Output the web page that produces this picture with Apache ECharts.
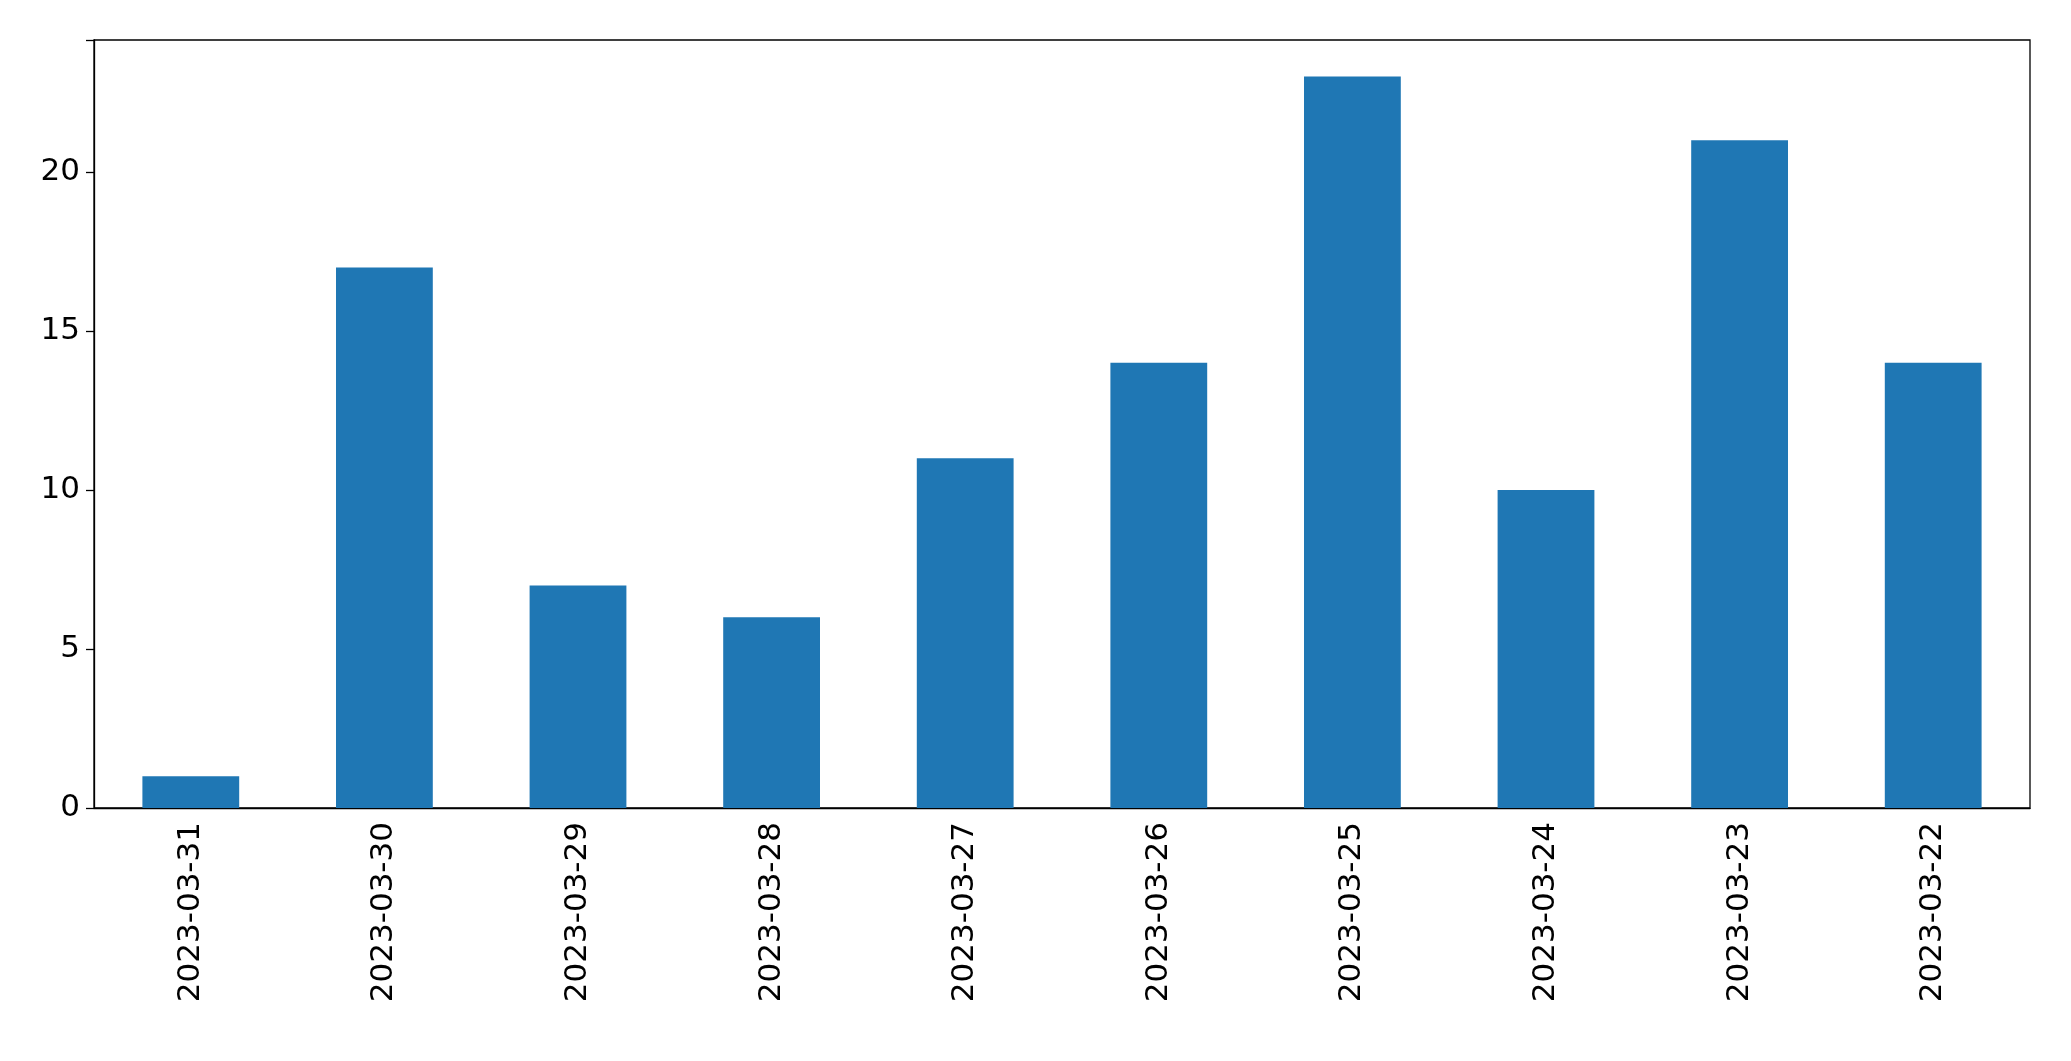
<!DOCTYPE html>
<html><head><meta charset="utf-8">
<script src="https://cdn.jsdelivr.net/npm/echarts@6/dist/echarts.min.js"></script>
<style>html,body{margin:0;padding:0;background:#fff}#c{width:2071px;height:1061px}</style>
</head><body><div id="c"></div>
<script>
const categories = ["2023-03-31","2023-03-30","2023-03-29","2023-03-28","2023-03-27","2023-03-26","2023-03-25","2023-03-24","2023-03-23","2023-03-22"];
const values = [1,17,7,6,11,14,23,10,21,14];
const yTicks = [0,5,10,15,20];
const chart = echarts.init(document.getElementById('c'));
chart.setOption({
  animation:false,
  grid:{left:94,right:41,top:40,bottom:253,show:true,borderColor:'#000',borderWidth:1.3},
  xAxis:{type:'category',data:categories,
    axisLine:{lineStyle:{color:'#000',width:1.3}},
    axisTick:{alignWithLabel:true,length:8,lineStyle:{color:'#000',width:1.3}},
    axisLabel:{rotate:90,fontSize:31,color:'#000',fontFamily:'DejaVu Sans',margin:14}},
  yAxis:{type:'value',min:0,max:24.15,interval:5,
    splitLine:{show:false},
    axisLine:{show:true,lineStyle:{color:'#000',width:1.3}},
    axisTick:{show:true,length:8,lineStyle:{color:'#000',width:1.3}},
    axisLabel:{fontSize:31,color:'#000',fontFamily:'DejaVu Sans',margin:14,
      formatter:v=>yTicks.includes(v)?String(v):''}},
  series:[{type:'bar',data:values,barWidth:'50%',itemStyle:{color:'#1f77b4'}}]
});
</script></body></html>
